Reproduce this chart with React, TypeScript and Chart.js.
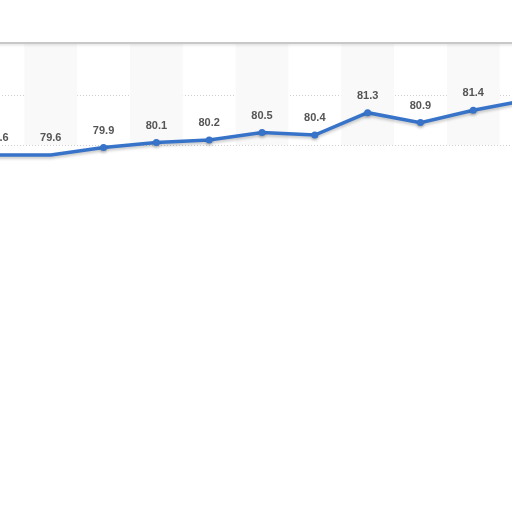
import { useEffect, useRef } from "react"
import { Chart, registerables } from "chart.js"

Chart.register(...registerables)

const years = ["2008", "2009", "2010", "2011", "2012", "2013", "2014", "2015", "2016", "2017", "2018"]
const values = [79.6, 79.6, 79.9, 80.1, 80.2, 80.5, 80.4, 81.3, 80.9, 81.4, 81.8]
const yTicks = [80, 82, 84]

const LINE = "#3673c9"

// alternating column bands + top border line
const bandsPlugin = {
  id: "bands",
  beforeDatasetsDraw(chart: any) {
    const { ctx, chartArea, scales } = chart
    const x = scales.x
    const half = (x.getPixelForValue(1) - x.getPixelForValue(0)) / 2
    const top = chartArea.top - 2.5
    ctx.save()
    ctx.fillStyle = "#f9f9f9"
    for (let i = 1; i < years.length; i += 2) {
      const cx = x.getPixelForValue(i)
      ctx.fillRect(cx - half, top, half * 2, chartArea.bottom - top)
    }
    ctx.restore()

    ctx.save()
    ctx.strokeStyle = "#c8c8c8"
    ctx.lineWidth = 2
    ctx.shadowColor = "rgba(0,0,0,0.15)"
    ctx.shadowBlur = 3
    ctx.shadowOffsetY = 1
    ctx.beginPath()
    ctx.moveTo(0, top)
    ctx.lineTo(chart.width, top)
    ctx.stroke()
    ctx.restore()
  },
}

const shadowPlugin = {
  id: "lineShadow",
  beforeDatasetDraw(chart: any) {
    const ctx = chart.ctx
    ctx.save()
    ctx.shadowColor = "rgba(0,0,0,0.22)"
    ctx.shadowBlur = 3
    ctx.shadowOffsetY = 2
  },
  afterDatasetDraw(chart: any) {
    chart.ctx.restore()
  },
}

const labelsPlugin = {
  id: "pointLabels",
  afterDatasetsDraw(chart: any) {
    const { ctx } = chart
    const meta = chart.getDatasetMeta(0)
    ctx.save()
    ctx.font = "bold 11px 'Liberation Sans', Arial, sans-serif"
    ctx.fillStyle = "#555555"
    ctx.textAlign = "center"
    ctx.textBaseline = "middle"
    meta.data.forEach((pt: any, i: number) => {
      ctx.fillText(values[i].toFixed(1), pt.x, pt.y - 17)
    })
    ctx.restore()
  },
}

export default function App() {
  const chartRef = useRef<HTMLCanvasElement>(null)
  const chartInstance = useRef<Chart | null>(null)

  useEffect(() => {
    if (!chartRef.current) return
    if (chartInstance.current) chartInstance.current.destroy()
    const ctx = chartRef.current.getContext("2d")
    if (!ctx) return

    chartInstance.current = new Chart(ctx, {
      type: "line",
      data: {
        labels: years,
        datasets: [
          {
            data: values,
            borderColor: LINE,
            backgroundColor: LINE,
            borderWidth: 3.5,
            pointRadius: 3.5,
            pointHoverRadius: 3.5,
            pointBorderWidth: 0,
            tension: 0,
            clip: false,
          },
        ],
      },
      options: {
        animation: false,
        responsive: true,
        maintainAspectRatio: false,
        layout: { padding: { top: 0, left: 0, right: 0, bottom: 60 } },
        plugins: { legend: { display: false }, tooltip: { enabled: false } },
        scales: {
          x: { display: false, offset: true },
          y: {
            min: 80,
            max: 84,
            afterFit: (s: any) => {
              s.width = 0
            },
            afterBuildTicks: (s: any) => {
              s.ticks = yTicks.map((v) => ({ value: v }))
            },
            ticks: { display: false },
            border: { display: false, dash: [1, 2] },
            grid: {
              drawTicks: false,
              color: (c: any) => (c.tick && c.tick.value === 84 ? "rgba(0,0,0,0)" : "#cfcfcf"),
              lineWidth: 1,
            },
          },
        },
      },
      plugins: [bandsPlugin, shadowPlugin, labelsPlugin],
    })

    return () => {
      if (chartInstance.current) {
        chartInstance.current.destroy()
        chartInstance.current = null
      }
    }
  }, [])

  return (
    <div style={{ position: "fixed", left: -32, top: 42, width: 588, height: 163 }}>
      <canvas ref={chartRef} />
    </div>
  )
}
